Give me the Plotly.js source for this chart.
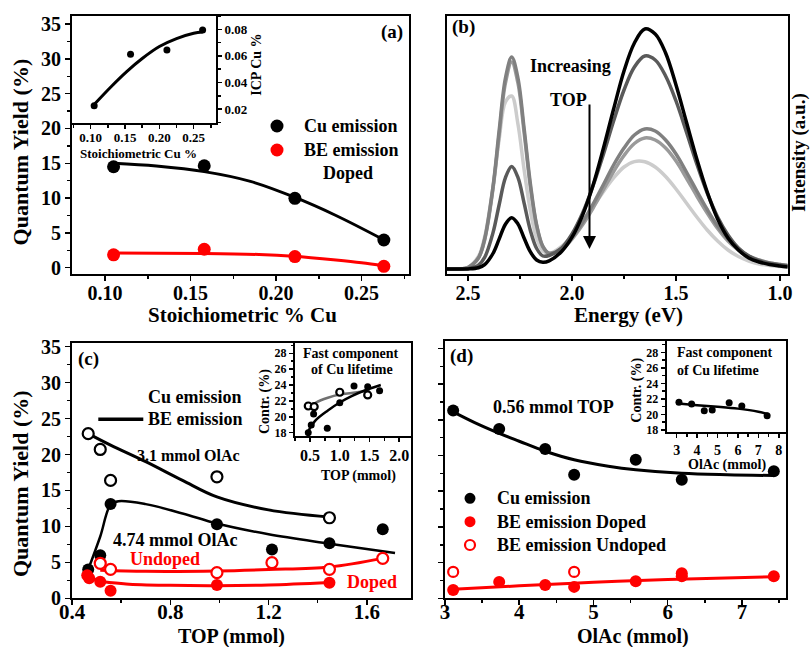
<!DOCTYPE html>
<html><head><meta charset="utf-8">
<script src="https://cdn.plot.ly/plotly-3.0.1.min.js"></script>
<style>body{margin:0;padding:0;background:#fff}#chart{width:810px;height:647px}</style>
</head><body><div id="chart"></div>
<script>
// ---------- Panel (a) ----------
const stoich = [0.105, 0.158, 0.211, 0.263];
const qyCuA = [14.5, 14.65, 9.97, 3.98];
const qyBEA = [1.85, 2.64, 1.6, 0.2];
const fitCuAx = [0.105, 0.13, 0.158, 0.185, 0.21, 0.235, 0.263];
const fitCuAy = [15.0, 14.6, 13.8, 12.4, 10.2, 7.5, 4.0];
const fitBEAx = [0.105, 0.158, 0.19, 0.21, 0.235, 0.25, 0.263];
const fitBEAy = [2.1, 2.05, 1.9, 1.65, 1.1, 0.7, 0.25];
// inset (a)
const icpCu = [0.0225, 0.0612, 0.0644, 0.0795];
const fitIcpX = [0.106, 0.13, 0.152, 0.175, 0.2, 0.225, 0.25, 0.263];
const fitIcpY = [0.024, 0.037, 0.048, 0.058, 0.067, 0.073, 0.077, 0.078];

// ---------- Panel (b) spectra ----------
const energy = [2.62, 2.55, 2.50, 2.45, 2.42, 2.38, 2.35, 2.32, 2.29, 2.26, 2.23, 2.20, 2.17, 2.14, 2.11, 2.05, 2.00, 1.95, 1.90, 1.85, 1.80, 1.75, 1.70, 1.65, 1.60, 1.55, 1.50, 1.45, 1.40, 1.35, 1.30, 1.25, 1.20, 1.15, 1.10, 1.05, 1.00, 0.96];
const specLight = [0, 0, 1.8, 12.5, 32, 82, 130, 167, 173, 145, 99, 58, 30.5, 18, 15.4, 22.5, 33.3, 46.7, 61.7, 77, 91, 102, 107.4, 107.2, 102, 92.5, 80, 66, 52, 39, 28, 19, 12.5, 8, 5, 3.5, 2.5, 2];
const specGrey = [0, 0, 1.5, 11, 29, 80, 135, 186, 207, 186, 136, 82, 43, 22, 15.5, 19.5, 30, 44, 60.5, 79, 97.5, 113.5, 125.5, 131, 129, 121, 108, 91, 73, 56, 40.5, 28, 19, 12.5, 8.5, 6, 4.5, 3.5];
const specMid = [0, 0, 1.5, 11, 30, 82, 139, 191, 212, 191, 140, 85, 44, 22.7, 15.8, 20.6, 31.7, 46.5, 64.3, 84, 104, 121, 134, 140, 138, 129, 115, 97, 78, 59.5, 43, 30, 20, 13, 9, 6, 4.5, 3.5];
const specDark = [0, 0, 0.4, 3.8, 11.6, 36.1, 64.5, 91.4, 102.6, 91.6, 65.6, 38.3, 20.5, 13, 13.5, 21, 35, 55.5, 82.5, 114, 148, 179, 202, 213, 209, 193, 168, 137, 105, 76, 52, 34, 21, 13, 8, 5.5, 4, 3];
const specBlack = [0, 0, 0.1, 1.2, 4.3, 15.5, 30.1, 44.8, 51.3, 45.1, 30.7, 17.1, 9.0, 6.7, 8.1, 17.5, 31.8, 53.4, 83, 120, 160, 198, 226, 240, 235, 216, 184, 147, 110, 77, 50, 31, 19, 11, 7, 4.5, 3, 2];

// ---------- Panel (c) ----------
const topCuOpen = [0.466, 0.515, 0.557, 0.99, 1.448];
const qyCuOpen = [22.9, 20.7, 16.4, 16.9, 11.2];
const topCuFill = [0.466, 0.515, 0.557, 0.99, 1.214, 1.448, 1.665];
const qyCuFill = [4.0, 6.0, 13.1, 10.3, 6.8, 7.65, 9.6];
const topBEUnd = [0.515, 0.557, 0.99, 1.214, 1.448, 1.665];
const qyBEUnd = [4.87, 4.03, 3.56, 4.95, 4.03, 5.56];
const topBEDop = [0.462, 0.47, 0.515, 0.557, 0.99, 1.448];
const qyBEDop = [3.2, 2.8, 2.3, 1.06, 1.85, 2.17];
const fitOpenX = [0.466, 0.557, 0.7, 0.85, 0.99, 1.2, 1.448];
const fitOpenY = [22.9, 21.3, 19.0, 16.4, 14.1, 12.3, 11.3];
const fitFillX = [0.466, 0.515, 0.557, 0.589, 0.7, 0.85, 0.99, 1.2, 1.448, 1.715];
const fitFillY = [4.0, 8.6, 13.0, 13.5, 13.1, 11.8, 10.4, 8.9, 7.6, 6.3];
const fitUndX = [0.515, 0.7, 0.99, 1.2, 1.448, 1.665];
const fitUndY = [3.9, 3.75, 3.8, 4.0, 4.35, 5.55];
const fitDopX = [0.466, 0.514, 0.62, 0.8, 0.99, 1.2, 1.448];
const fitDopY = [3.0, 2.4, 2.0, 1.8, 1.75, 1.85, 2.2];
// inset (c)
const topLifeFill = [0.47, 0.52, 0.56, 0.79, 1.0, 1.24, 1.47, 1.67];
const contrFill = [18.0, 18.97, 20.36, 18.55, 21.78, 23.88, 23.79, 23.29];
const topLifeOpen = [0.47, 0.57, 1.0, 1.47];
const contrOpen = [21.36, 21.27, 23.09, 22.75];
const fitLifeFillX = [0.47, 0.6, 0.8, 1.0, 1.2, 1.45, 1.69];
const fitLifeFillY = [18.2, 19.6, 20.8, 21.8, 22.6, 23.4, 24.0];
const fitLifeOpenX = [0.47, 0.6, 0.8, 1.0, 1.2, 1.5];
const fitLifeOpenY = [21.1, 21.8, 22.4, 22.8, 23.0, 23.3];

// ---------- Panel (d) ----------
const olac = [3.11, 3.73, 4.35, 4.74, 5.57, 6.19, 7.43];
const qyCuD = [26.3, 23.7, 20.9, 17.3, 19.4, 16.6, 17.8];
const olacDop = [3.11, 3.73, 4.35, 4.74, 5.57, 6.19, 6.19, 7.43];
const qyDopD = [1.16, 2.3, 1.86, 1.6, 2.4, 3.5, 3.1, 3.1];
const olacUnd = [3.11, 4.74];
const qyUndD = [3.7, 3.7];
const fitCuDX = [3.11, 3.4, 3.73, 4.0, 4.35, 4.74, 5.2, 5.57, 6.19, 6.8, 7.43];
const fitCuDY = [26.1, 24.6, 23.1, 22.0, 20.6, 19.4, 18.5, 18.0, 17.5, 17.3, 17.2];
const fitDopDX = [3.11, 4.0, 5.0, 6.0, 7.43];
const fitDopDY = [1.26, 1.75, 2.25, 2.65, 3.03];
// inset (d)
const contrD = [21.56, 21.35, 20.48, 20.57, 21.51, 21.08, 19.83];
const fitContrDX = [3.08, 4.0, 5.0, 6.0, 7.0, 7.46];
const fitContrDY = [21.4, 21.2, 21.0, 20.75, 20.35, 20.05];

// ---------- helpers ----------
const W = 810, H = 647;
const X = p => p / W, Y = p => 1 - p / H;
const FF = 'Liberation Serif, Times New Roman, serif';
const fnt = (s, c) => ({family: FF, size: s, color: c || 'black', weight: 'bold'});
const RED = '#ff0000';

function ax(o) {
  const base = {
    showline: true, linecolor: 'black', linewidth: 2, mirror: true,
    ticks: 'outside', ticklen: 5, tickwidth: 1.5, tickcolor: 'black',
    showgrid: false, zeroline: false, automargin: false, fixedrange: true,
    tickfont: fnt(20)
  };
  return Object.assign(base, o);
}
const minor = (d, len) => ({dtick: d, ticks: 'outside', ticklen: len || 3, tickwidth: 1.5, tickcolor: 'black', showgrid: false});

function line(x, y, xa, ya, color, w) {
  return {x, y, xaxis: xa, yaxis: ya, mode: 'lines', line: {color, width: w || 3, shape: 'spline', smoothing: 1}, hoverinfo: 'skip'};
}
function pts(x, y, xa, ya, color, size, open) {
  return {x, y, xaxis: xa, yaxis: ya, mode: 'markers',
    marker: {size, color: open ? 'white' : color, line: {color, width: open ? 2.2 : 0}}, hoverinfo: 'skip'};
}

const traces = [
  // (a)
  line(fitCuAx, fitCuAy, 'x', 'y', 'black', 3),
  line(fitBEAx, fitBEAy, 'x', 'y', RED, 3),
  pts(stoich, qyCuA, 'x', 'y', 'black', 13),
  pts(stoich, qyBEA, 'x', 'y', RED, 13),
  line(fitIcpX, fitIcpY, 'x2', 'y2', 'black', 3),
  pts(stoich, icpCu, 'x2', 'y2', 'black', 7),
  // (b)
  line(energy, specLight, 'x3', 'y3', '#cccccc', 3.5),
  line(energy, specGrey, 'x3', 'y3', '#9a9a9a', 3.5),
  line(energy, specMid, 'x3', 'y3', '#808080', 3.5),
  line(energy, specDark, 'x3', 'y3', '#5a5a5a', 3.5),
  line(energy, specBlack, 'x3', 'y3', '#000000', 3.5),
  // (c)
  line(fitOpenX, fitOpenY, 'x4', 'y4', 'black', 3),
  line(fitFillX, fitFillY, 'x4', 'y4', 'black', 2.5),
  line(fitUndX, fitUndY, 'x4', 'y4', RED, 3),
  line(fitDopX, fitDopY, 'x4', 'y4', RED, 3),
  pts(topCuOpen, qyCuOpen, 'x4', 'y4', 'black', 11, true),
  pts(topCuFill, qyCuFill, 'x4', 'y4', 'black', 12),
  pts(topBEUnd, qyBEUnd, 'x4', 'y4', RED, 11, true),
  pts(topBEDop, qyBEDop, 'x4', 'y4', RED, 12),
  line(fitLifeOpenX, fitLifeOpenY, 'x5', 'y5', '#707070', 2.5),
  line(fitLifeFillX, fitLifeFillY, 'x5', 'y5', 'black', 2.5),
  pts(topLifeOpen, contrOpen, 'x5', 'y5', 'black', 7, true),
  pts(topLifeFill, contrFill, 'x5', 'y5', 'black', 7),
  // (d)
  line(fitCuDX, fitCuDY, 'x6', 'y6', 'black', 3),
  line(fitDopDX, fitDopDY, 'x6', 'y6', RED, 3),
  pts(olac, qyCuD, 'x6', 'y6', 'black', 12),
  pts(olacDop, qyDopD, 'x6', 'y6', RED, 12),
  pts(olacUnd, qyUndD, 'x6', 'y6', RED, 10, true),
  line(fitContrDX, fitContrDY, 'x7', 'y7', 'black', 2.5),
  pts(olac, contrD, 'x7', 'y7', 'black', 7)
];

function ann(text, x, y, size, opt) {
  return Object.assign({text, x: X(x), y: Y(y), xref: 'paper', yref: 'paper', showarrow: false,
    xanchor: 'center', yanchor: 'middle', font: fnt(size)}, opt || {});
}

const annotations = [
  ann('(a)', 391.7, 31.7, 19), ann('(b)', 463.3, 27, 19), ann('(c)', 88.3, 359.3, 19), ann('(d)', 461.7, 356, 19),
  // axis titles
  ann('Quantum Yield (%)', 20.7, 151.7, 22, {textangle: -90}),
  ann('Stoichiometric % Cu', 242, 315, 21),
  ann('Energy (eV)', 628, 315, 21),
  ann('Intensity (a.u.)', 799, 153, 19, {textangle: -90}),
  ann('Quantum Yield (%)', 20.7, 483.3, 22, {textangle: -90}),
  ann('TOP (mmol)', 231.7, 636.5, 20),
  ann('OlAc (mmol)', 633, 636.5, 20),
  // inset (a)
  ann('Stoichiometric Cu %', 138.7, 153.3, 13),
  ann('ICP Cu %', 256.7, 65, 14, {textangle: -90}),
  // legend (a)
  ann('Cu emission', 301.7, 126, 18, {xanchor: 'left'}),
  ann('BE emission', 301.7, 150, 18, {xanchor: 'left'}),
  ann('Doped', 348, 173, 18),
  // (b)
  ann('Increasing', 570.7, 66, 18),
  ann('TOP', 568, 100, 18),
  {x: X(589.5), y: Y(249), xref: 'paper', yref: 'paper', ax: 0, ay: -146, axref: 'pixel', ayref: 'pixel',
   showarrow: true, arrowhead: 2, arrowsize: 1.3, arrowwidth: 2, arrowcolor: 'black', text: ''},
  // (c)
  ann('Cu emission', 195, 396.7, 18),
  ann('BE emission', 195, 419.3, 18),
  ann('3.1 mmol OlAc', 188, 455, 16),
  ann('4.74 mmol OlAc', 175, 540, 18),
  ann('Undoped', 165, 559.3, 18, {font: fnt(18, RED)}),
  ann('Doped', 371.7, 582.3, 18, {font: fnt(18, RED)}),
  ann('Fast component', 350.8, 353.3, 14),
  ann('of Cu lifetime', 351.7, 369.3, 14),
  ann('Contr. (%)', 265, 402, 14, {textangle: -90}),
  ann('TOP (mmol)', 358.3, 476, 14),
  // (d)
  ann('0.56 mmol TOP', 553.3, 407.3, 18),
  ann('Cu emission', 495, 498.3, 18, {xanchor: 'left'}),
  ann('BE emission Doped', 495, 521.7, 18, {xanchor: 'left'}),
  ann('BE emission Undoped', 495, 545, 18, {xanchor: 'left'}),
  ann('Fast component', 675, 352.7, 14, {xanchor: 'left'}),
  ann('of Cu lifetime', 675, 370, 14, {xanchor: 'left'}),
  ann('Contr. (%)', 636.7, 390, 14, {textangle: -90}),
  ann('OlAc (mmol)', 726.7, 465, 14)
];

function dot(cx, cy, color, d, open) {
  return {type: 'circle', xref: 'paper', yref: 'paper', xsizemode: 'pixel', ysizemode: 'pixel',
    xanchor: X(cx), yanchor: Y(cy), x0: -d / 2, x1: d / 2, y0: -d / 2, y1: d / 2,
    fillcolor: open ? 'white' : color, line: {color, width: open ? 2.2 : 0}};
}
const shapes = [
  dot(277, 126, 'black', 13), dot(277, 150, RED, 13),
  {type: 'line', xref: 'paper', yref: 'paper', x0: X(98.3), x1: X(143.3), y0: Y(419.3), y1: Y(419.3), line: {color: 'black', width: 3.5}},
  dot(470, 498.3, 'black', 11), dot(470, 521.7, RED, 11), dot(470, 545, RED, 10, true)
];

const layout = {
  width: W, height: H, margin: {l: 0, r: 0, t: 0, b: 0},
  paper_bgcolor: 'white', plot_bgcolor: 'rgba(0,0,0,0)', showlegend: false,
  font: fnt(18),
  // (a) main
  xaxis: ax({domain: [X(72), X(409)], range: [0.0807, 0.2777], anchor: 'y', tick0: 0.1, dtick: 0.05, tickformat: '.2f', minor: minor(0.025), ticklabelstandoff: -5}),
  yaxis: ax({domain: [Y(274), Y(16)], range: [-0.905, 36.16], anchor: 'x', tick0: 0, dtick: 5, minor: minor(2.5)}),
  // (a) inset
  xaxis2: ax({domain: [X(72), X(216)], range: [0.0727, 0.2825], anchor: 'y2', tick0: 0.1, dtick: 0.05, tickformat: '.2f', ticklen: 4, minor: minor(0.025, 2.5), tickfont: fnt(13), ticklabelstandoff: -3}),
  yaxis2: ax({domain: [Y(123), Y(16)], range: [0.0095, 0.090], anchor: 'x2', side: 'right', tick0: 0.02, dtick: 0.02, tickformat: '.2f', ticklen: 4, minor: minor(0.01, 2.5), tickfont: fnt(13)}),
  // (b)
  xaxis3: ax({domain: [X(447), X(787.5)], range: [2.601, 0.964], anchor: 'y3', tick0: 1, dtick: 0.5, tickformat: '.1f', minor: minor(0.25), ticklabelstandoff: -5}),
  yaxis3: ax({domain: [Y(274), Y(16)], range: [-5, 253], anchor: 'x3', ticks: '', showticklabels: false}),
  // (c)
  xaxis4: ax({domain: [X(72), X(410.5)], range: [0.4, 1.778], anchor: 'y4', tick0: 0.4, dtick: 0.4, tickformat: '.1f', minor: minor(0.2), tickfont: fnt(21), ticklabelstandoff: -12}),
  yaxis4: ax({domain: [Y(598.3), Y(342.7)], range: [0, 35.55], anchor: 'x4', tick0: 0, dtick: 5, minor: minor(2.5)}),
  // (c) inset
  xaxis5: ax({domain: [X(295), X(410.5)], range: [0.247, 2.19], anchor: 'y5', tick0: 0.5, dtick: 0.5, tickformat: '.1f', ticklen: 4, minor: minor(0.25, 2.5), tickfont: fnt(16)}),
  yaxis5: ax({domain: [Y(436), Y(342.7)], range: [17.58, 29.33], anchor: 'x5', tick0: 18, dtick: 2, ticklen: 4, minor: minor(1, 2.5), tickfont: fnt(12)}),
  // (d)
  xaxis6: ax({domain: [X(445), X(785.7)], range: [3, 7.59], anchor: 'y6', tick0: 3, dtick: 1, minor: minor(0.5), tickfont: fnt(21), ticklabelstandoff: -12}),
  yaxis6: ax({domain: [Y(598.3), Y(340.7)], range: [0, 36.08], anchor: 'x6', tick0: 0, dtick: 5, minor: minor(2.5), showticklabels: false}),
  // (d) inset
  xaxis7: ax({domain: [X(666.7), X(785.7)], range: [2.51, 8.34], anchor: 'y7', tick0: 3, dtick: 1, ticklen: 4, minor: minor(0.5, 2.5), tickfont: fnt(14)}),
  yaxis7: ax({domain: [Y(432.3), Y(340.7)], range: [17.7, 29.5], anchor: 'x7', tick0: 18, dtick: 2, ticklen: 4, minor: minor(1, 2.5), tickfont: fnt(12)}),
  annotations, shapes
};

Plotly.newPlot('chart', traces, layout, {staticPlot: true, displayModeBar: false});
</script>
</body></html>
